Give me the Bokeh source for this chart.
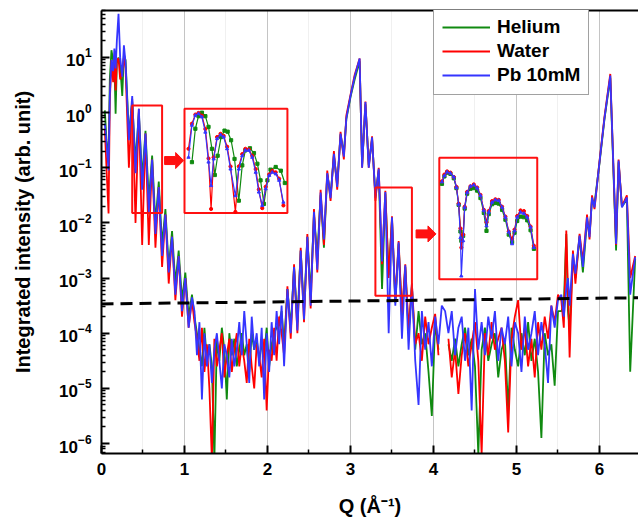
import numpy as np
from bokeh.plotting import figure
from bokeh.models import (Range1d, FixedTicker, LinearAxis, Legend, LegendItem)
from bokeh.embed import file_html
from bokeh.resources import INLINE

NA = float("nan")

# ------------------------------------------------------------------
# Data: Q (1/Angstrom) and log10(intensity)
# ------------------------------------------------------------------
# low-Q region
q_a = [0.04, 0.06, 0.085, 0.10, 0.12, 0.14, 0.155, 0.17, 0.185, 0.205, 0.225, 0.25, 0.27, 0.29, 0.33]
helium_a = [0.04, -0.5, -0.83, 0.6, 1.13, 0.95, 0.9, -0.02, 0.9, 1.0, 0.85, 0.3, 1.05, 0.95, -0.4]
water_a = [-0.3, -1.0, -1.83, 0.2, 0.95, 0.55, 0.95, 0.4, 0.95, 0.98, 0.6, 0.75, 1.0, 0.8, -1.0]
pb_a = [-0.2, -0.55, -1.05, 0.3, 0.95, 0.75, 1.16, 0.8, 1.3, 1.79, 1.0, 0.65, 1.22, 0.9, -0.5]

# first fringe series
q_b = [0.37, 0.41, 0.45, 0.49, 0.53, 0.57, 0.61, 0.65, 0.69, 0.73, 0.77, 0.81, 0.85, 0.89, 0.93, 0.97, 1.01, 1.05, 1.09]
helium_b = [0.2, -0.9, 0.0, -1.2, -0.33, -1.6, -0.78, -2.0, -1.25, -2.4, -1.75, -2.8, -2.15, -3.1, -2.5, -3.4, -2.9, -3.7, -3.3]
water_b = [0.25, -2.0, 0.07, -2.4, -0.38, -2.4, -0.85, -2.45, -1.35, -2.8, -1.85, -3.1, -2.25, -3.4, -2.6, -3.7, -3.0, -3.9, -3.4]
pb_b = [0.3, -1.1, 0.07, -1.4, -0.38, -1.8, -0.85, -2.2, -1.35, -2.6, -1.85, -2.9, -2.25, -3.3, -2.6, -3.6, -3.0, -3.9, -3.35]

# first noise floor
q_c = [1.12, 1.15, 1.18, 1.21, 1.24, 1.27, 1.30, 1.33, 1.36, 1.39, 1.42, 1.45, 1.48, 1.51, 1.54, 1.57, 1.60, 1.63,
       1.66, 1.69, 1.72, 1.75, 1.78, 1.81, 1.84, 1.87, 1.90, 1.93, 1.96, 1.99, 2.02, 2.05, 2.08, 2.11, 2.14, 2.17]
helium_c = [-3.7, -4.0, -4.3, -4.6, -3.9, -4.5, -4.2, -4.6, -6.3, -4.1, -4.5, -3.9, -4.3, -5.2, -4.0, -4.4, -4.1, -4.6,
            -4.3, -4.0, -4.4, -4.2, -4.7, -4.0, -4.3, -4.1, -4.5, -4.2, -4.4, -3.9, -4.6, -4.2, -4.0, -3.9, -3.8, -3.6]
water_c = [-3.8, -4.1, -4.5, -3.9, -4.7, -4.2, -5.0, -6.3, -4.1, -4.6, -4.3, -4.0, -4.8, -4.4, -4.1, -4.7, -4.3, -4.0,
           -4.6, -4.2, -4.5, -4.9, -4.1, -4.6, -5.0, -4.2, -4.4, -4.8, -4.1, -5.4, -4.3, -4.5, -3.9, -4.5, -3.7, -4.0]
pb_c = [-3.6, -4.4, -3.8, -5.2, -4.0, -4.6, -4.2, -4.9, -4.3, -4.0, -4.5, -5.0, -4.2, -4.4, -4.8, -4.1, -4.6, -4.3,
        -3.8, -4.4, -3.6, -4.2, -4.9, -3.7, -4.3, -4.0, -4.6, -3.9, -5.2, -4.0, -4.7, -3.8, -4.4, -3.6, -4.2, -3.5]

# rising side of the 3.1 peak
q_d = [2.20, 2.24, 2.28, 2.32, 2.36, 2.40, 2.44, 2.48, 2.52, 2.56, 2.60, 2.64, 2.68, 2.72, 2.76, 2.80, 2.84, 2.88,
       2.92, 2.95, 3.00, 3.05, 3.11]
helium_d = [-4.2, -3.2, -3.9, -2.8, -3.8, -2.5, -3.6, -2.25, -3.3, -1.85, -2.6, -1.5, -2.45, -1.12, -1.5, -0.78, -1.3,
            -0.4, -0.75, -0.12, 0.28, 0.6, 0.93]
water_d = [-4.4, -3.15, -4.1, -2.75, -4.0, -2.45, -3.8, -2.2, -3.55, -1.75, -2.9, -1.4, -2.4, -1.05, -1.6, -0.7, -1.4,
           -0.35, -0.85, -0.05, 0.32, 0.68, 0.98]
pb_d = [-4.6, -3.2, -4.0, -2.8, -3.95, -2.5, -3.75, -2.25, -3.5, -1.8, -2.85, -1.45, -2.3, -1.1, -1.55, -0.75, -1.35,
        -0.38, -0.8, -0.1, 0.3, 0.65, 0.98]

# falling side of the 3.1 peak
q_e = [3.14, 3.18, 3.22, 3.26, 3.30, 3.34, 3.38, 3.42, 3.46, 3.50, 3.54, 3.58, 3.62, 3.66, 3.70, 3.74, 3.78]
helium_e = [-0.95, 0.15, -0.95, -0.48, -1.5, -1.05, -3.2, -1.47, -2.95, -1.93, -3.45, -2.38, -3.7, -2.8, -4.0, -3.15, -4.3]
water_e = [-1.0, 0.2, -1.0, -0.43, -1.6, -1.0, -2.75, -1.42, -3.0, -1.88, -3.4, -2.33, -3.65, -2.75, -3.95, -3.1, -4.2]
pb_e = [-1.0, 0.19, -1.0, -0.45, -1.55, -1.02, -2.7, -1.44, -4.0, -1.9, -3.5, -2.35, -4.1, -2.77, -4.3, -3.1, -4.5]

# second noise floor
q_f = [3.82, 3.86, 3.90, 3.94, 3.98, 4.02, 4.06, 4.10, 4.14, 4.18, 4.22, 4.26, 4.30, 4.34, 4.38, 4.42, 4.46, 4.50,
       4.54, 4.58, 4.62, 4.66, 4.70, 4.74, 4.78, 4.82, 4.86, 4.90, 4.94, 4.98, 5.02, 5.06, 5.10, 5.14, 5.18, 5.22,
       5.26, 5.30, 5.34, 5.38, 5.42, 5.46, 5.50]
helium_f = [-3.6, -4.2, -4.0, -4.7, -5.5, -3.8, -4.3, NA, NA, -4.2, -4.5, -4.1, -4.6, -4.2, -3.9, -4.4, -4.1, -4.6,
            -6.2, -4.3, -3.9, -4.5, -4.2, -4.0, -4.8, -4.3, -4.1, -5.4, -3.9, -4.3, -4.6, -4.0, -4.4, -3.8, -4.5, -4.1,
            -4.7, -5.9, -4.0, -4.4, -4.2, -4.95, -3.6]
water_f = [-4.0, -4.5, -3.7, -4.2, -3.9, -3.65, -4.4, NA, NA, -4.1, -4.8, -4.3, -5.1, -4.4, -4.0, -4.6, -4.2, -3.8,
           -4.5, -6.2, -4.0, -4.4, -3.8, -4.3, -4.1, -3.9, -4.5, -5.8, -4.1, -3.7, -3.4, -4.3, -3.9, -4.6, -4.1, -4.8,
           -3.8, -4.3, -3.7, -4.1, -3.5, -3.8, -3.3]
pb_f = [-5.3, -3.6, -4.3, -3.8, -4.6, -3.7, -4.2, -3.5, -3.6, -4.0, -3.6, -4.4, -3.9, -3.7, -4.5, -3.9, -5.4, -3.2,
        -4.3, -3.8, -4.4, -3.7, -4.1, -3.6, -4.5, -3.9, -4.2, -3.7, -4.6, -3.8, -4.0, -4.7, -3.7, -4.3, -4.0, -3.6,
        -4.4, -3.8, -4.2, -4.9, -3.5, -3.9, -3.4]

# the 6.1 peak
q_g = [5.54, 5.57, 5.60, 5.62, 5.64, 5.68, 5.71, 5.76, 5.80, 5.85, 5.88, 5.91, 5.94, 6.00, 6.06, 6.13, 6.20, 6.23,
       6.27, 6.33, 6.37, 6.43]
helium_g = [-3.6, -3.5, -2.2, -3.6, -3.9, -2.6, -3.0, -2.25, -2.9, -1.95, -2.2, -1.58, -1.65, -0.92, -0.12, 0.63,
            -2.5, -0.9, -1.7, -1.58, -4.7, -2.65]
water_g = [-3.4, -3.9, -2.14, -3.2, -4.44, -2.5, -3.1, -2.2, -2.7, -1.85, -2.3, -1.5, -1.75, -0.88, -0.08, 0.7,
           -2.4, -0.85, -1.7, -1.5, -3.0, -2.6]
pb_g = [-3.3, -3.7, -3.2, -3.0, -3.5, -2.56, -2.92, -2.23, -2.8, -1.9, -2.26, -1.54, -1.72, -0.9, -0.1, 0.67,
        -2.38, -0.87, -1.72, -1.54, -3.3, -2.62]

# dashed threshold line
threshold_q = [0.0, 6.5]
threshold_i = [3.4e-4, 4.4e-4]

# inset 1 (magnified fringes 0.37-0.73), log10 intensity
inset1_q = [0.384, 0.396, 0.408, 0.419, 0.431, 0.443, 0.454, 0.463, 0.472, 0.484, 0.496, 0.507, 0.519, 0.531,
            0.548, 0.560, 0.572, 0.583, 0.595, 0.607, 0.619, 0.630, 0.642, 0.654, 0.666, 0.677, 0.689, 0.701, 0.716]
inset1_pb = [-0.78, -0.18, 0.005, 0.036, -0.026, -0.31, -0.87, -1.31, -0.81, -0.43, -0.36, -0.40, -0.62, -1.0,
             -1.5, -1.0, -0.75, -0.65, -0.65, -0.78, -1.06, -1.43, -1.68, -1.37, -1.12, -1.06, -1.09, -1.21, -1.62]
inset1_water = [-0.62, -0.15, 0.02, 0.05, 0.0, -0.25, -0.8, -1.745, -0.78, -0.40, -0.34, -0.38, -0.58, -0.95,
                -1.8, -0.95, -0.72, -0.62, -0.63, -0.75, -1.0, -1.38, -1.73, -1.33, -1.1, -1.03, -1.06, -1.18, -1.68]
inset1_q_helium = [0.396, 0.408, 0.419, 0.431, 0.443, 0.454, 0.466, 0.476, 0.486, 0.498, 0.510, 0.521, 0.533, 0.545,
                   0.560, 0.572, 0.583, 0.599, 0.613, 0.625, 0.636, 0.648, 0.660, 0.671, 0.689, 0.707, 0.721]
inset1_helium = [-0.87, -0.245, -0.01, 0.055, -0.01, -0.21, -0.62, -1.11, -0.75, -0.40, -0.28, -0.30, -0.46, -0.81,
                 -1.59, -0.93, -0.65, -0.61, -0.70, -0.90, -1.21, -1.65, -1.21, -1.01, -0.96, -1.03, -1.26]

# inset 2 (magnified fringes 3.30-3.74), log10 intensity
inset2_q = [3.312, 3.323, 3.335, 3.350, 3.365, 3.377, 3.387, 3.395, 3.399, 3.407, 3.414, 3.425, 3.440, 3.455, 3.470,
            3.485, 3.500, 3.512, 3.522, 3.537, 3.552, 3.567, 3.582, 3.597, 3.612, 3.627, 3.638, 3.650, 3.665, 3.680,
            3.695, 3.710, 3.725]
inset2_pb = [-1.75, -1.65, -1.59, -1.61, -1.67, -1.84, -2.11, -2.65, -3.27, -2.70, -2.16, -1.92, -1.82, -1.80, -1.85,
             -1.97, -2.21, -2.46, -2.24, -2.08, -2.04, -2.05, -2.16, -2.32, -2.56, -2.75, -2.54, -2.32, -2.24, -2.26,
             -2.32, -2.48, -2.81]
inset2_water = [-1.74, -1.63, -1.58, -1.60, -1.67, -1.83, -2.10, -2.50, -2.81, -2.60, -2.15, -1.91, -1.82, -1.79,
                -1.84, -1.96, -2.20, -2.40, -2.22, -2.06, -2.03, -2.04, -2.15, -2.31, -2.55, -2.67, -2.52, -2.30,
                -2.21, -2.22, -2.30, -2.47, -2.78]
inset2_helium = [-1.78, -1.66, -1.60, -1.62, -1.69, -1.85, -2.12, -2.55, -2.70, -2.62, -2.18, -1.94, -1.86, -1.85,
                 -1.89, -2.01, -2.25, -2.54, -2.27, -2.11, -2.09, -2.10, -2.20, -2.36, -2.60, -2.72, -2.57, -2.38,
                 -2.31, -2.32, -2.37, -2.53, -2.83]

series_names = ["Helium", "Water", "Pb 10mM"]
series_colors = ["#108a10", "#ff0000", "#3535ff"]

# ------------------------------------------------------------------
q = np.array(q_a + q_b + q_c + q_d + q_e + q_f + q_g)
helium = 10.0 ** np.array(helium_a + helium_b + helium_c + helium_d + helium_e + helium_f + helium_g)
water = 10.0 ** np.array(water_a + water_b + water_c + water_d + water_e + water_f + water_g)
pb = 10.0 ** np.array(pb_a + pb_b + pb_c + pb_d + pb_e + pb_f + pb_g)

W, H = 638, 521
BL, BR, BT, BB = 101, 0, 10, 68
X_END = 6.47
Y_LO, Y_HI = 6.6e-7, 70.8
PX_Q = (W - BL - BR) / X_END
PX_DEC = (H - BT - BB) / (np.log10(Y_HI) - np.log10(Y_LO))

FONT = "Liberation Sans"

p = figure(width=W, height=H, x_range=Range1d(0, X_END), y_range=Range1d(Y_LO, Y_HI),
           y_axis_type="log", output_backend="svg", toolbar_location=None,
           min_border_left=BL, min_border_right=BR, min_border_top=BT, min_border_bottom=BB,
           outline_line_color=None, background_fill_color="white", border_fill_color="white")

xax = p.xaxis[0]
yax = p.yaxis[0]
xax.ticker = FixedTicker(ticks=[0, 1, 2, 3, 4, 5, 6], minor_ticks=[0.5, 1.5, 2.5, 3.5, 4.5, 5.5, 6.5])
yax.ticker = FixedTicker(ticks=[10.0 ** e for e in range(-6, 2)],
                         minor_ticks=[m * 10.0 ** e for e in range(-7, 2) for m in range(2, 10)])
for ax in (xax, yax):
    ax.axis_line_width = 2
    ax.axis_line_color = "black"
    ax.major_tick_in = 8
    ax.major_tick_out = 0
    ax.minor_tick_in = 4
    ax.minor_tick_out = 0
    ax.major_tick_line_width = 2
    ax.minor_tick_line_width = 1.5
    ax.major_label_text_font = FONT
    ax.major_label_text_font_style = "bold"
    ax.major_label_text_font_size = "17px"
    ax.major_label_text_color = "black"
    ax.axis_label_text_font = FONT
    ax.axis_label_text_font_style = "bold"
    ax.axis_label_text_font_size = "20px"
    ax.axis_label_text_color = "black"
yax.major_label_standoff = 10
xax.major_label_standoff = 9
yax.axis_label = "Integrated intensity (arb. unit)"
yax.axis_label_standoff = 22
xax.axis_label = "Q (Å⁻¹)"
xax.axis_label_standoff = 17

top = LinearAxis(ticker=FixedTicker(ticks=[]), major_tick_in=0, major_tick_out=0, minor_tick_in=0,
                 minor_tick_out=0, major_label_text_font_size="0px", axis_line_width=2, axis_line_color="black")
p.add_layout(top, "above")

p.ygrid.grid_line_color = None
p.xgrid.grid_line_color = "#c4c4c4"
p.xgrid.grid_line_width = 1
p.xgrid.minor_grid_line_color = "#f0f0f0"

# main curves
renderers = []
for ys, col in zip((helium, water, pb), series_colors):
    renderers.append(p.line(q, ys, line_color=col, line_width=1.8))

# threshold
p.line(threshold_q, threshold_i, line_color="black", line_width=3, line_dash="12 7")

# zoom boxes and insets  (q0, q1, log_top, log_bottom)
INSET1_SRC = (0.37, 0.73, 0.13, -1.82)
INSET1_DST = (1.00, 2.24, 0.07, -1.82)
INSET2_SRC = (3.30, 3.74, -1.36, -3.32)
INSET2_DST = (4.07, 5.25, -0.82, -3.02)

boxes = [INSET1_SRC, INSET1_DST, INSET2_SRC, INSET2_DST]
p.quad(left=[b[0] for b in boxes], right=[b[1] for b in boxes],
       top=[10.0 ** b[2] for b in boxes], bottom=[10.0 ** b[3] for b in boxes],
       fill_alpha=0, line_color="#ff1010", line_width=2)


def map_inset(qs, lg, src, dst):
    qs = np.asarray(qs)
    lg = np.asarray(lg)
    x = dst[0] + (qs - src[0]) / (src[1] - src[0]) * (dst[1] - dst[0])
    y = dst[3] + (lg - src[3]) / (src[2] - src[3]) * (dst[2] - dst[3])
    return x, 10.0 ** y


markers = ["square", "circle", "triangle"]
inset_sets = [
    ((inset1_q_helium, inset1_helium), (inset1_q, inset1_water), (inset1_q, inset1_pb), INSET1_SRC, INSET1_DST),
    ((inset2_q, inset2_helium), (inset2_q, inset2_water), (inset2_q, inset2_pb), INSET2_SRC, INSET2_DST),
]
for g, r, b, src, dst in inset_sets:
    for (qs, lg), col, mk in zip((g, r, b), series_colors, markers):
        x, y = map_inset(qs, lg, src, dst)
        p.line(x, y, line_color=col, line_width=1.2)
        p.scatter(x, y, marker=mk, size=3.2, fill_color=col, line_color=col)


def arrow(q0, q1, lg, shaft_px=8, head_px=16, head_len_px=8):
    hl = head_len_px / PX_Q
    sh = shaft_px / 2 / PX_DEC
    hh = head_px / 2 / PX_DEC
    xs = [q0, q1 - hl, q1 - hl, q1, q1 - hl, q1 - hl, q0]
    ys = [lg + sh, lg + sh, lg + hh, lg, lg - hh, lg - sh, lg - sh]
    return xs, [10.0 ** v for v in ys]


for a in ((0.76, 0.99, -0.87), (3.79, 4.03, -2.2)):
    ax_, ay_ = arrow(*a)
    p.patch(ax_, ay_, fill_color="#ff1010", line_color="#ff1010", line_width=1)

# legend
legend = Legend(items=[LegendItem(label=n, renderers=[r]) for n, r in zip(series_names, renderers)],
                location=(332, 358), label_text_font=FONT, label_text_font_style="bold",
                label_text_font_size="19px", label_text_color="black", glyph_width=48, glyph_height=20,
                label_height=20, label_standoff=7, spacing=2, padding=8, margin=0,
                border_line_color="#444444", border_line_width=1, background_fill_color="white",
                background_fill_alpha=1)
p.add_layout(legend)

open("out.html", "w").write(file_html(p, INLINE))
